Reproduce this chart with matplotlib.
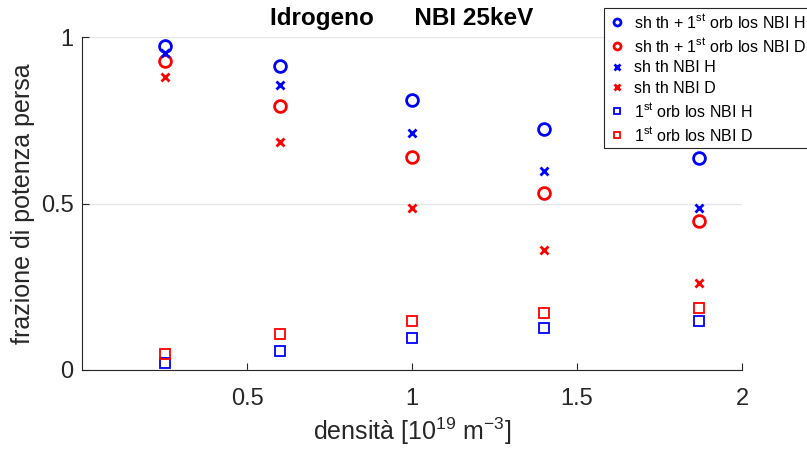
import numpy as np
import matplotlib.pyplot as plt

plt.rcParams['font.family'] = ['Liberation Sans', 'DejaVu Sans']
plt.rcParams['mathtext.fontset'] = 'custom'
plt.rcParams['mathtext.rm'] = 'Liberation Sans'

# densita [10^19 m^-3]
dens = [0.25, 0.6, 1.0, 1.4, 1.87]

tot_H = [0.972, 0.914, 0.811, 0.724, 0.637]
tot_D = [0.928, 0.793, 0.639, 0.531, 0.447]
sh_H = [0.951, 0.856, 0.711, 0.598, 0.486]
sh_D = [0.879, 0.684, 0.487, 0.360, 0.261]
orb_H = [0.020, 0.057, 0.097, 0.125, 0.147]
orb_D = [0.047, 0.107, 0.147, 0.170, 0.186]

fig = plt.figure(figsize=(8.07, 4.54), dpi=100)
ax = fig.add_axes([82/807, 1 - 370/454, 660/807, 333/454])

ax.plot(dens, tot_H, 'o', ms=8.5, mew=2, mfc='none', mec='#0000ff', label=r'sh th + 1$^{\mathregular{st}}$ orb los NBI H')
ax.plot(dens, tot_D, 'o', ms=8.5, mew=2, mfc='none', mec='#ff0000', label=r'sh th + 1$^{\mathregular{st}}$ orb los NBI D')
ax.plot(dens, sh_H, 'x', ms=5.5, mew=2, color='#0000ff', label='sh th NBI H')
ax.plot(dens, sh_D, 'x', ms=5.5, mew=2, color='#ff0000', label='sh th NBI D')
ax.plot(dens, orb_H, 's', ms=6.5, mew=1.3, mfc='none', mec='#0000ff', label=r'1$^{\mathregular{st}}$ orb los NBI H')
ax.plot(dens, orb_D, 's', ms=6.5, mew=1.3, mfc='none', mec='#ff0000', label=r'1$^{\mathregular{st}}$ orb los NBI D')

ax.set_xlim(0, 2)
ax.set_ylim(0, 1)
ax.set_xticks([0.5, 1, 1.5, 2])
ax.set_xticklabels(['0.5', '1', '1.5', '2'])
ax.set_yticks([0, 0.5, 1])
ax.set_yticklabels(['0', '0.5', '1'])
ax.yaxis.grid(True, color='#e6e6e6', lw=1)
ax.set_axisbelow(True)
for s in ['top', 'right']:
    ax.spines[s].set_visible(False)
for s in ['left', 'bottom']:
    ax.spines[s].set_color('#262626')
    ax.spines[s].set_linewidth(0.8)
ax.tick_params(direction='in', length=5, colors='#262626', labelsize=17)
ax.tick_params(axis='x', pad=13)
ax.tick_params(axis='y', pad=6)

ax.set_xlabel(r'densità [10$^{\mathregular{19}}$ m$^{\mathregular{-3}}$]', fontsize=18, color='#262626', labelpad=4)
ax.set_ylabel('frazione di potenza persa', fontsize=18, color='#262626', labelpad=4)
fig.text(402/807, 1 - 18/454, 'Idrogeno      NBI 25keV', fontsize=17.5, fontweight='bold',
         ha='center', va='center')

leg = fig.legend(loc='upper left', bbox_to_anchor=(596/807, 1.0), fontsize=11.5,
                 frameon=True, fancybox=False, edgecolor='#262626', framealpha=1,
                 handletextpad=0.6, labelspacing=0.36, borderpad=0.3, handlelength=1.0)
leg.get_frame().set_linewidth(0.8)
for h, m in zip(leg.legend_handles, [5, 5, 4.5, 4.5, 4.5, 4.5]):
    h.set_markersize(m)

fig.savefig('out.png', dpi=100)
